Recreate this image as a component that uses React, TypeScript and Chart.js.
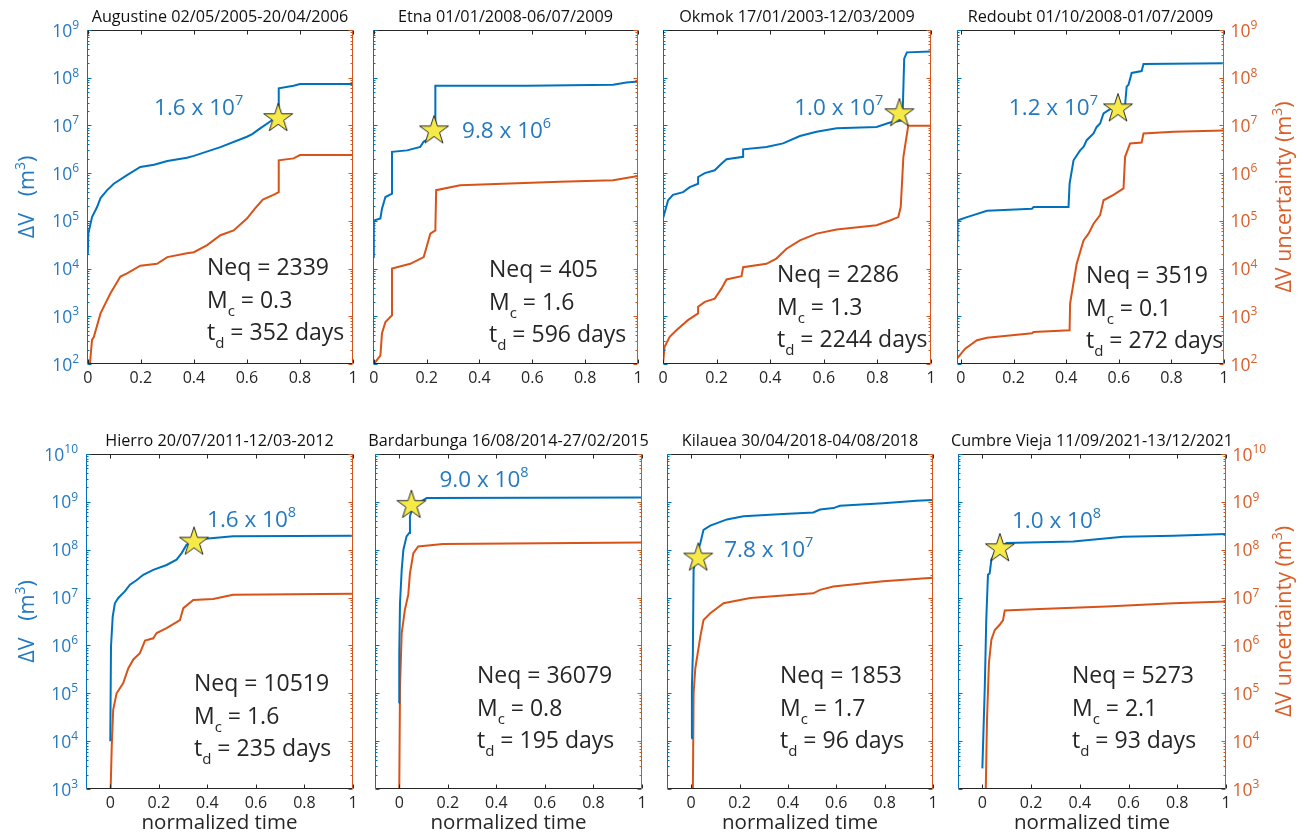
import React, { useEffect, useRef } from 'react';
import { Chart, registerables } from 'chart.js';

Chart.register(...registerables);

// ---------------------------------------------------------------- data
type Pt = [number, number];

const PANEL_TITLES = [
  'Augustine 02/05/2005-20/04/2006',
  'Etna 01/01/2008-06/07/2009',
  'Okmok 17/01/2003-12/03/2009',
  'Redoubt 01/10/2008-01/07/2009',
  'Hierro 20/07/2011-12/03-2012',
  'Bardarbunga 16/08/2014-27/02/2015',
  'Kilauea 30/04/2018-04/08/2018',
  'Cumbre Vieja 11/09/2021-13/12/2021',
];
const NEQ = [2339, 405, 2286, 3519, 10519, 36079, 1853, 5273];
const MC = ['0.3', '1.6', '1.3', '0.1', '1.6', '0.8', '1.7', '2.1'];
const TD_DAYS = [352, 596, 2244, 272, 235, 195, 96, 93];
const PEAK_MANTISSA = ['1.6', '9.8', '1.0', '1.2', '1.6', '9.0', '7.8', '1.0'];
const PEAK_EXPONENT = ['7', '6', '7', '7', '8', '8', '7', '8'];
const STAR_T = [0.718, 0.228, 0.882, 0.597, 0.345, 0.05, 0.029, 0.072];
const STAR_V = [1.5e7, 8.3e6, 1.9e7, 2.4e7, 1.55e8, 9.1e8, 7.2e7, 1.13e8];
const X_MIN = [-0.003, -0.003, 0, -0.015, -0.1, -0.1, -0.1, -0.1];

const X_TICKS = [0, 0.2, 0.4, 0.6, 0.8, 1];
const Y_DECADES_TOP = [1e2, 1e3, 1e4, 1e5, 1e6, 1e7, 1e8, 1e9];
const Y_DECADES_BOTTOM = [1e3, 1e4, 1e5, 1e6, 1e7, 1e8, 1e9, 1e10];
const MINOR_STEPS = [2, 3, 4, 5, 6, 7, 8, 9];

const augustineVolume: Pt[] = [
  [0, 2.0e4], [0.002, 5.4e4], [0.016, 1.2e5], [0.035, 1.95e5], [0.048, 3.0e5], [0.073, 4.4e5],
  [0.098, 6.0e5], [0.148, 9.1e5], [0.198, 1.35e6], [0.25, 1.5e6], [0.3, 1.8e6], [0.374, 2.1e6],
  [0.4, 2.3e6], [0.5, 3.5e6], [0.6, 5.8e6], [0.62, 6.6e6], [0.65, 8.7e6], [0.7, 1.35e7],
  [0.72, 1.65e7], [0.72, 6.0e7], [0.776, 6.8e7], [0.8, 7.4e7], [1, 7.4e7],
];
const augustineUncert: Pt[] = [
  [0.008, 1.0e2], [0.016, 3.2e2], [0.023, 3.7e2], [0.048, 1.15e3], [0.085, 3.0e3], [0.123, 6.8e3],
  [0.148, 7.9e3], [0.198, 1.15e4], [0.261, 1.26e4], [0.3, 1.74e4], [0.374, 2.1e4], [0.4, 2.2e4],
  [0.45, 3.1e4], [0.5, 5.0e4], [0.55, 6.3e4], [0.6, 1.12e5], [0.63, 1.8e5], [0.66, 2.8e5],
  [0.7, 3.5e5], [0.72, 4.0e5], [0.72, 1.86e6], [0.776, 2.04e6], [0.8, 2.4e6], [1, 2.4e6],
];
const etnaVolume: Pt[] = [
  [-0.003, 1.74e4], [0, 1.02e5], [0.025, 1.12e5], [0.031, 1.8e5], [0.044, 3.16e5], [0.069, 3.7e5],
  [0.069, 2.8e6], [0.126, 3.0e6], [0.176, 3.55e6], [0.189, 4.6e6], [0.214, 5.4e6], [0.233, 6.8e6],
  [0.233, 6.8e7], [0.579, 6.8e7], [0.906, 7.1e7], [0.956, 7.9e7], [1, 8.3e7],
];
const etnaUncert: Pt[] = [
  [0, 1.0e2], [0.025, 1.5e2], [0.031, 4.4e2], [0.044, 7.6e2], [0.069, 1.05e3], [0.069, 1.0e4],
  [0.138, 1.26e4], [0.189, 1.74e4], [0.214, 5.4e4], [0.233, 6.3e4], [0.236, 4.4e5], [0.327, 5.6e5],
  [0.704, 6.6e5], [0.906, 7.1e5], [1, 8.7e5],
];
const okmokVolume: Pt[] = [
  [0, 1.12e5], [0.019, 2.7e5], [0.037, 3.5e5], [0.075, 4.0e5], [0.1, 5.1e5], [0.131, 6.0e5],
  [0.131, 8.3e5], [0.156, 1.0e6], [0.193, 1.15e6], [0.218, 1.58e6], [0.237, 1.95e6], [0.299, 2.2e6],
  [0.299, 3.16e6], [0.386, 3.55e6], [0.448, 4.2e6], [0.511, 6.0e6], [0.573, 7.4e6], [0.648, 8.7e6],
  [0.797, 9.3e6], [0.847, 1.15e7], [0.89, 1.26e7], [0.895, 2.5e7], [0.9, 2.5e8], [0.91, 3.4e8],
  [1, 3.55e8],
];
const okmokUncert: Pt[] = [
  [0, 1.0e2], [0.006, 2.3e2], [0.025, 3.7e2], [0.05, 5.1e2], [0.093, 8.3e2], [0.131, 1.15e3],
  [0.131, 1.58e3], [0.156, 2.0e3], [0.193, 2.34e3], [0.218, 3.8e3], [0.237, 5.9e3], [0.293, 6.9e3],
  [0.299, 1.07e4], [0.386, 1.26e4], [0.423, 1.62e4], [0.461, 2.6e4], [0.511, 3.9e4], [0.573, 5.4e4],
  [0.648, 6.6e4], [0.797, 8.1e4], [0.847, 1.02e5], [0.878, 1.2e5], [0.887, 1.95e5], [0.897, 2.2e6],
  [0.915, 9.8e6], [1, 9.8e6],
];
const redoubtVolume: Pt[] = [
  [-0.015, 3.9e4], [-0.013, 1.02e5], [0.023, 1.2e5], [0.099, 1.62e5], [0.27, 1.8e5], [0.276, 1.95e5],
  [0.409, 1.95e5], [0.413, 6.0e5], [0.428, 1.86e6], [0.453, 3.0e6], [0.466, 3.55e6], [0.478, 4.9e6],
  [0.504, 6.8e6], [0.516, 9.3e6], [0.529, 1.1e7], [0.542, 1.78e7], [0.58, 2.45e7], [0.624, 2.7e7],
  [0.63, 6.5e7], [0.637, 7.1e7], [0.649, 1.26e8], [0.687, 1.38e8], [0.694, 1.95e8], [1, 2.0e8],
];
const redoubtUncert: Pt[] = [
  [-0.015, 1.3e2], [0.016, 2.1e2], [0.061, 3.16e2], [0.099, 3.55e2], [0.27, 4.4e2], [0.276, 4.7e2],
  [0.413, 5.1e2], [0.415, 1.86e3], [0.44, 1.26e4], [0.466, 3.9e4], [0.485, 5.4e4], [0.504, 8.7e4],
  [0.529, 1.32e5], [0.542, 2.7e5], [0.58, 3.5e5], [0.618, 4.8e5], [0.624, 2.2e6], [0.643, 4.2e6],
  [0.687, 4.4e6], [0.694, 6.8e6], [0.808, 7.4e6], [1, 7.8e6],
];
const hierroVolume: Pt[] = [
  [0, 1.0e4], [0.003, 9.5e5], [0.01, 4.0e6], [0.019, 7.6e6], [0.033, 9.8e6], [0.06, 1.35e7],
  [0.081, 1.86e7], [0.108, 2.3e7], [0.136, 3.0e7], [0.177, 3.8e7], [0.232, 4.8e7], [0.273, 6.2e7],
  [0.294, 8.5e7], [0.314, 1.26e8], [0.369, 1.66e8], [0.506, 1.9e8], [1, 1.95e8],
];
const hierroUncert: Pt[] = [
  [0.0015, 1.0e3], [0.006, 7.6e3], [0.012, 4.5e4], [0.026, 1.0e5], [0.053, 1.62e5], [0.074, 3.3e5],
  [0.095, 5.1e5], [0.122, 6.9e5], [0.143, 1.26e6], [0.177, 1.41e6], [0.191, 1.82e6], [0.232, 2.3e6],
  [0.287, 3.4e6], [0.301, 6.0e6], [0.342, 8.9e6], [0.424, 9.3e6], [0.506, 1.15e7], [1, 1.2e7],
];
const bardarbungaVolume: Pt[] = [
  [-0.001, 6.2e4], [0, 6.9e5], [0.003, 7.6e6], [0.01, 3.8e7], [0.017, 1.0e8], [0.03, 1.9e8],
  [0.041, 2.24e8], [0.044, 5.0e8], [0.058, 8.1e8], [0.113, 1.2e9], [1, 1.23e9],
];
const bardarbungaUncert: Pt[] = [
  [0, 1.0e3], [0.003, 1.38e5], [0.01, 1.8e6], [0.023, 5.5e6], [0.037, 1.15e7], [0.044, 3.2e7],
  [0.058, 8.5e7], [0.078, 1.17e8], [0.18, 1.32e8], [1, 1.41e8],
];
const kilaueaVolume: Pt[] = [
  [0, 1.15e4], [0.003, 1.38e5], [0.007, 6.9e5], [0.01, 3.8e7], [0.024, 8.5e7], [0.038, 1.38e8],
  [0.051, 2.6e8], [0.079, 3.2e8], [0.148, 4.3e8], [0.216, 5.0e8], [0.381, 5.6e8], [0.505, 6.0e8],
  [0.533, 6.9e8], [0.588, 7.4e8], [0.615, 8.3e8], [0.794, 9.3e8], [0.931, 1.05e9], [1, 1.1e9],
];
const kilaueaUncert: Pt[] = [
  [0.007, 1.0e3], [0.01, 1.0e5], [0.017, 3.3e5], [0.038, 1.55e6], [0.051, 3.4e6], [0.079, 4.7e6],
  [0.134, 7.6e6], [0.244, 9.8e6], [0.381, 1.1e7], [0.505, 1.23e7], [0.533, 1.45e7], [0.588, 1.7e7],
  [0.794, 2.2e7], [1, 2.6e7],
];
const cumbreViejaVolume: Pt[] = [
  [0, 2.7e3], [0.01, 1.38e5], [0.016, 3.4e6], [0.023, 3.0e7], [0.03, 3.2e7], [0.037, 6.2e7],
  [0.051, 8.5e7], [0.099, 1.38e8], [0.373, 1.48e8], [0.578, 1.86e8], [0.784, 1.95e8], [0.879, 2.04e8],
  [1, 2.14e8],
];
const cumbreViejaUncert: Pt[] = [
  [0.014, 1.0e3], [0.019, 2.75e4], [0.027, 4.3e5], [0.037, 1.32e6], [0.051, 2.1e6], [0.071, 2.7e6],
  [0.085, 3.4e6], [0.092, 5.4e6], [0.236, 5.8e6], [0.51, 6.5e6], [0.784, 7.6e6], [1, 8.3e6],
];

const VOLUME_SERIES = [augustineVolume, etnaVolume, okmokVolume, redoubtVolume,
  hierroVolume, bardarbungaVolume, kilaueaVolume, cumbreViejaVolume];
const UNCERT_SERIES = [augustineUncert, etnaUncert, okmokUncert, redoubtUncert,
  hierroUncert, bardarbungaUncert, kilaueaUncert, cumbreViejaUncert];

// ---------------------------------------------------------------- layout / style
const W = 1306;
const H = 837;
const FONT = '"Open Sans", "Noto Sans", "DejaVu Sans", sans-serif';
const BLUE = '#0072BD';
const ORANGE = '#D95319';
const BLUE_TEXT = '#2479bf';
const ORANGE_TEXT = '#db5d27';
const DARK = '#262626';
const X_AXIS_H = 30;

const PLOT_RECTS = [
  { l: 87, r: 353, t: 30, b: 364 },
  { l: 373, r: 638, t: 30, b: 364 },
  { l: 663, r: 931, t: 30, b: 364 },
  { l: 957, r: 1224, t: 30, b: 364 },
  { l: 86, r: 353, t: 454, b: 789 },
  { l: 375, r: 642, t: 454, b: 789 },
  { l: 667, r: 933, t: 454, b: 789 },
  { l: 958, r: 1226, t: 454, b: 789 },
];
// peak label offset from the star marker (px), alignment
const PEAK_LABEL_POS: { dx: number; dy: number; align: 'left' | 'right' }[] = [
  { dx: -35, dy: -2, align: 'right' },
  { dx: 28, dy: 9, align: 'left' },
  { dx: -16, dy: 3, align: 'right' },
  { dx: -20, dy: 8, align: 'right' },
  { dx: 13, dy: -14, align: 'left' },
  { dx: 28, dy: -17, align: 'left' },
  { dx: 26, dy: 0, align: 'left' },
  { dx: 12, dy: -19, align: 'left' },
];
// stats block position: offset from plot left, first baseline from plot top
const STATS_POS = [[120, 245], [116, 247], [114, 252], [129, 253], [108, 237], [102, 229], [113, 229], [114, 229]];

type Run = { t: string; size: number; dy?: number };

function runsWidth(ctx: CanvasRenderingContext2D, runs: Run[]) {
  return runs.map((r) => {
    ctx.font = `${r.size}px ${FONT}`;
    return ctx.measureText(r.t).width;
  });
}

function drawRuns(ctx: CanvasRenderingContext2D, runs: Run[], x: number, y: number,
  align: 'left' | 'right' | 'center', color: string) {
  const widths = runsWidth(ctx, runs);
  const total = widths.reduce((a, b) => a + b, 0);
  let cx = align === 'left' ? x : align === 'right' ? x - total : x - total / 2;
  ctx.fillStyle = color;
  ctx.textAlign = 'left';
  ctx.textBaseline = 'alphabetic';
  runs.forEach((r, k) => {
    ctx.font = `${r.size}px ${FONT}`;
    ctx.fillText(r.t, cx, y + (r.dy || 0));
    cx += widths[k];
  });
}

function seg(ctx: CanvasRenderingContext2D, x1: number, y1: number, x2: number, y2: number, color: string) {
  ctx.strokeStyle = color;
  ctx.beginPath();
  ctx.moveTo(x1, y1);
  ctx.lineTo(x2, y2);
  ctx.stroke();
}

function isDecade(v: number) {
  const e = Math.log10(v);
  return Math.abs(e - Math.round(e)) < 1e-9;
}

function buildLogTicks(decades: number[]) {
  const out: number[] = [];
  decades.forEach((d, k) => {
    out.push(d);
    if (k < decades.length - 1) MINOR_STEPS.forEach((m) => out.push(d * m));
  });
  return out;
}

function makeStar(): HTMLCanvasElement {
  const c = document.createElement('canvas');
  c.width = 34;
  c.height = 34;
  const g = c.getContext('2d')!;
  const R = 15.2;
  const r = R * 0.382;
  const cx = 17;
  const cy = 17 + 0.0955 * R;
  g.beginPath();
  for (let k = 0; k < 10; k++) {
    const ang = -Math.PI / 2 + (k * Math.PI) / 5;
    const rad = k % 2 === 0 ? R : r;
    const px = cx + rad * Math.cos(ang);
    const py = cy + rad * Math.sin(ang);
    if (k === 0) g.moveTo(px, py); else g.lineTo(px, py);
  }
  g.closePath();
  g.fillStyle = '#f6ea48';
  g.fill();
  g.strokeStyle = '#2a2a2a';
  g.lineWidth = 1;
  g.stroke();
  return c;
}

const decorPlugin = {
  id: 'decor',
  afterDraw(chart: any) {
    const i: number = chart.options.plugins.decor.panel;
    const ctx: CanvasRenderingContext2D = chart.ctx;
    const { left, right, top, bottom } = chart.chartArea;
    const xs = chart.scales.x;
    const ys = chart.scales.y;
    const ys2 = chart.scales.y2;
    const L = Math.floor(left) + 0.5;
    const R = Math.floor(right) - 0.5;
    const T = Math.floor(top) + 0.5;
    const B = Math.floor(bottom) - 0.5;
    ctx.save();
    ctx.lineWidth = 1;
    // box
    seg(ctx, L, T, R, T, DARK);
    seg(ctx, L, B, R, B, DARK);
    seg(ctx, L, T, L, B, BLUE);
    seg(ctx, R, T, R, B, ORANGE);
    // y ticks (inward)
    ys.ticks.forEach((tk: any) => {
      const y = Math.round(ys.getPixelForValue(tk.value)) + 0.5;
      seg(ctx, L, y, L + (isDecade(tk.value) ? 4 : 2), y, BLUE);
    });
    ys2.ticks.forEach((tk: any) => {
      const y = Math.round(ys2.getPixelForValue(tk.value)) + 0.5;
      seg(ctx, R, y, R - (isDecade(tk.value) ? 4 : 2), y, ORANGE);
    });
    // x ticks
    xs.ticks.forEach((tk: any) => {
      const x = Math.round(xs.getPixelForValue(tk.value)) + 0.5;
      seg(ctx, x, B, x, B - 4, DARK);
      seg(ctx, x, T, x, T + 4, DARK);
    });

    // y tick labels
    const col = i % 4;
    if (col === 0 || col === 3) {
      const scale = col === 0 ? ys : ys2;
      scale.ticks.forEach((tk: any) => {
        if (!isDecade(tk.value)) return;
        const y = scale.getPixelForValue(tk.value);
        const runs: Run[] = [
          { t: '10', size: 17.5 },
          { t: String(Math.round(Math.log10(tk.value))), size: 12, dy: -7.5 },
        ];
        if (col === 0) drawRuns(ctx, runs, left - 8, y + 6.5, 'right', BLUE_TEXT);
        else drawRuns(ctx, runs, right + 6.5, y + 6.5, 'left', ORANGE_TEXT);
      });
    }

    // axis titles
    const cyPlot = (top + bottom) / 2;
    if (col === 0) {
      ctx.save();
      ctx.translate(26, cyPlot);
      ctx.rotate(-Math.PI / 2);
      drawRuns(ctx, [{ t: 'ΔV   (m', size: 21.5 }, { t: '3', size: 14, dy: -9 }, { t: ')', size: 21.5 }],
        0, 8, 'center', BLUE_TEXT);
      ctx.restore();
    }
    if (col === 3) {
      ctx.save();
      ctx.translate(1283, cyPlot);
      ctx.rotate(-Math.PI / 2);
      drawRuns(ctx, [{ t: 'ΔV uncertainty (m', size: 21.5 }, { t: '3', size: 14, dy: -9 }, { t: ')', size: 21.5 }],
        0, 8, 'center', ORANGE_TEXT);
      ctx.restore();
    }
    if (i >= 4) {
      drawRuns(ctx, [{ t: 'normalized time', size: 20.5 }], (left + right) / 2, bottom + 40, 'center', DARK);
    }

    // panel title
    drawRuns(ctx, [{ t: PANEL_TITLES[i], size: 16.2 }], (left + right) / 2, top - 8, 'center', '#111');

    // peak label next to star
    const sx = xs.getPixelForValue(STAR_T[i]);
    const sy = ys.getPixelForValue(STAR_V[i]);
    const pl = PEAK_LABEL_POS[i];
    drawRuns(ctx, [
      { t: `${PEAK_MANTISSA[i]} x 10`, size: 22.5 },
      { t: PEAK_EXPONENT[i], size: 14.5, dy: -10 },
    ], sx + pl.dx, sy + pl.dy, pl.align, BLUE_TEXT);

    // stats block
    const [ox, oy] = STATS_POS[i];
    const tx = left + ox;
    const ty = top + oy;
    drawRuns(ctx, [{ t: `Neq = ${NEQ[i]}`, size: 23 }], tx, ty, 'left', DARK);
    drawRuns(ctx, [{ t: 'M', size: 23 }, { t: 'c', size: 15, dy: 8 }, { t: ` = ${MC[i]}`, size: 23 }],
      tx, ty + 32.5, 'left', DARK);
    drawRuns(ctx, [{ t: 't', size: 23 }, { t: 'd', size: 15, dy: 8 }, { t: ` = ${TD_DAYS[i]} days`, size: 23 }],
      tx, ty + 65, 'left', DARK);
    ctx.restore();
  },
};

let STAR_IMG: HTMLCanvasElement | null = null;

function buildConfig(i: number): any {
  if (!STAR_IMG) STAR_IMG = makeStar();
  const rect = PLOT_RECTS[i];
  const decades = i < 4 ? Y_DECADES_TOP : Y_DECADES_BOTTOM;
  const yTicks = buildLogTicks(decades);
  const yAxis = (pos: 'left' | 'right') => ({
    type: 'logarithmic',
    position: pos,
    min: decades[0],
    max: decades[decades.length - 1],
    display: true,
    grid: { display: false, drawTicks: false },
    border: { display: false },
    ticks: { display: false },
    afterBuildTicks: (s: any) => { s.ticks = yTicks.map((v) => ({ value: v })); },
    afterFit: (s: any) => { s.width = 0; },
  });
  return {
    type: 'line',
    data: {
      datasets: [
        {
          label: 'peak',
          data: [{ x: STAR_T[i], y: STAR_V[i] }],
          yAxisID: 'y',
          showLine: false,
          pointStyle: STAR_IMG,
          pointRadius: 15,
          order: 0,
          clip: false,
        },
        {
          label: 'ΔV',
          data: VOLUME_SERIES[i].map(([x, y]) => ({ x, y })),
          yAxisID: 'y',
          borderColor: BLUE,
          borderWidth: 2,
          pointRadius: 0,
          tension: 0,
          fill: false,
          order: 1,
        },
        {
          label: 'ΔV uncertainty',
          data: UNCERT_SERIES[i].map(([x, y]) => ({ x, y })),
          yAxisID: 'y2',
          borderColor: ORANGE,
          borderWidth: 2,
          pointRadius: 0,
          tension: 0,
          fill: false,
          order: 2,
        },
      ],
    },
    options: {
      animation: false,
      responsive: false,
      events: [],
      layout: {
        autoPadding: false,
        padding: { left: rect.l, right: W - rect.r, top: rect.t, bottom: H - rect.b - X_AXIS_H },
      },
      plugins: { legend: { display: false }, tooltip: { enabled: false }, decor: { panel: i } },
      scales: {
        x: {
          type: 'linear',
          position: 'bottom',
          min: X_MIN[i],
          max: 1,
          grid: { display: false, drawTicks: false },
          border: { display: false },
          afterBuildTicks: (s: any) => { s.ticks = X_TICKS.map((v) => ({ value: v })); },
          ticks: {
            autoSkip: false,
            maxRotation: 0,
            minRotation: 0,
            padding: 5,
            color: DARK,
            font: { family: FONT, size: 16 },
            callback: (v: number) => String(v),
          },
          afterFit: (s: any) => { s.height = X_AXIS_H; },
        },
        y: yAxis('left'),
        y2: yAxis('right'),
      },
    },
    plugins: [decorPlugin],
  };
}

function Panel({ idx }: { idx: number }) {
  const ref = useRef<HTMLCanvasElement>(null);
  useEffect(() => {
    const chart = new Chart(ref.current as HTMLCanvasElement, buildConfig(idx));
    return () => chart.destroy();
  }, [idx]);
  return (
    <canvas
      ref={ref}
      width={W}
      height={H}
      style={{ position: 'absolute', left: 0, top: 0, width: W, height: H, display: 'block' }}
    />
  );
}

export default function App() {
  return (
    <div style={{ position: 'absolute', left: 0, top: 0, width: W, height: H, background: '#ffffff', overflow: 'hidden' }}>
      {PANEL_TITLES.map((_, i) => (
        <Panel key={i} idx={i} />
      ))}
    </div>
  );
}
